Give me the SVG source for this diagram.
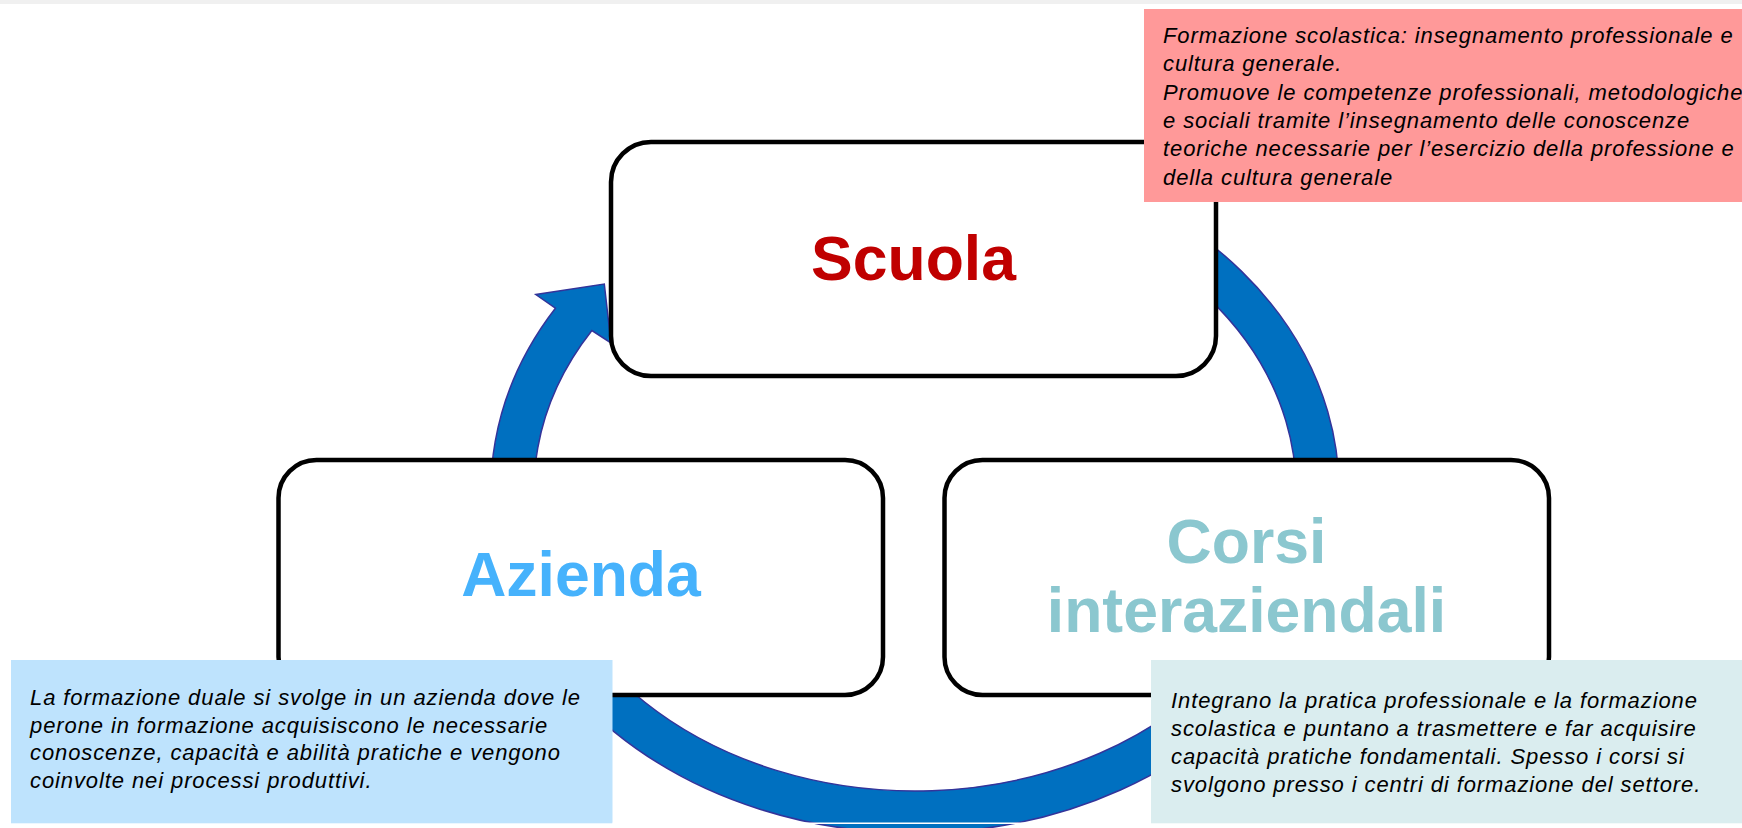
<svg xmlns="http://www.w3.org/2000/svg" width="1742" height="828" viewBox="0 0 1742 828">
  <style>
    .box { fill: #ffffff; stroke: #000000; stroke-width: 4.5; }
    .title { font-family: "Liberation Sans", Arial, sans-serif; font-weight: bold; font-size: 62.5px; text-anchor: middle; }
    .note { font-family: "Liberation Sans", Arial, sans-serif; font-style: italic; font-size: 22px; letter-spacing: 0.9px; fill: #000000; }
    .ring { fill: #0070C0; stroke: #33349A; stroke-width: 1.5; stroke-linejoin: miter; }
  </style>
  <rect x="0" y="0" width="1742" height="828" fill="#ffffff"/>
  <rect x="0" y="0" width="1742" height="4" fill="#F0F0F0"/>

  <g id="connectors">
    <path class="ring" d="M 915 147 A 424 343 0 1 1 555.4 308.2 L 535.8 294.5 L 604.3 284 L 611 343 L 591.9 330.5 A 381 301 0 1 0 915 189 Z"/>
  </g>

  <g id="node-scuola">
    <rect class="box" x="611" y="142" width="605" height="234" rx="40" ry="40"/>
    <text class="title" x="913.5" y="280" fill="#C00000">Scuola</text>
  </g>

  <g id="node-azienda">
    <rect class="box" x="278.5" y="460" width="604.5" height="235" rx="38" ry="38"/>
    <text class="title" x="581" y="596" fill="#46B2FC">Azienda</text>
  </g>

  <g id="node-corsi">
    <rect class="box" x="944.5" y="460" width="604.5" height="235" rx="38" ry="38"/>
    <text class="title" x="1246.5" y="563" fill="#8BC7CF">Corsi</text>
    <text class="title" x="1246.5" y="632" fill="#8BC7CF">interaziendali</text>
  </g>

  <g id="note-scuola">
    <rect x="1144" y="9" width="598" height="193" fill="#FF9999"/>
    <text class="note">
      <tspan x="1163" y="43">Formazione scolastica: insegnamento professionale e</tspan>
      <tspan x="1163" y="71.3">cultura generale.</tspan>
      <tspan x="1163" y="99.6">Promuove le competenze professionali, metodologiche</tspan>
      <tspan x="1163" y="127.9">e sociali tramite l’insegnamento delle conoscenze</tspan>
      <tspan x="1163" y="156.2">teoriche necessarie per l’esercizio della professione e</tspan>
      <tspan x="1163" y="184.5">della cultura generale</tspan>
    </text>
  </g>

  <g id="note-azienda">
    <rect x="11" y="660" width="601.5" height="163.3" fill="#BEE3FD"/>
    <text class="note">
      <tspan x="30" y="705">La formazione duale si svolge in un azienda dove le</tspan>
      <tspan x="30" y="732.5">perone in formazione acquisiscono le necessarie</tspan>
      <tspan x="30" y="760">conoscenze, capacità e abilità pratiche e vengono</tspan>
      <tspan x="30" y="787.5">coinvolte nei processi produttivi.</tspan>
    </text>
  </g>

  <g id="note-corsi">
    <rect x="1151" y="660" width="591" height="163.3" fill="#DAEDEF"/>
    <text class="note">
      <tspan x="1171" y="708">Integrano la pratica professionale e la formazione</tspan>
      <tspan x="1171" y="736">scolastica e puntano a trasmettere e far acquisire</tspan>
      <tspan x="1171" y="764">capacità pratiche fondamentali. Spesso i corsi si</tspan>
      <tspan x="1171" y="792">svolgono presso i centri di formazione del settore.</tspan>
    </text>
  </g>

  <line x1="612.5" y1="823.2" x2="1151" y2="823.2" stroke="#ffffff" stroke-width="1.5"/>
</svg>
